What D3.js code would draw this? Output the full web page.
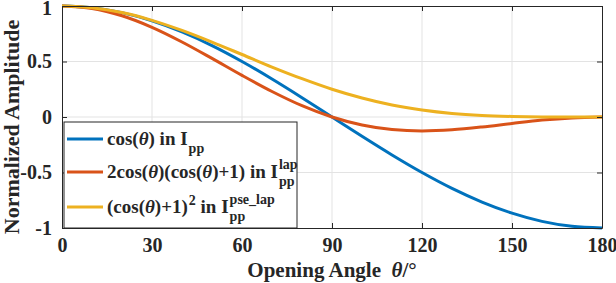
<!DOCTYPE html>
<html>
<head>
<meta charset="utf-8">
<script src="https://cdn.jsdelivr.net/npm/d3@7"></script>
<style>
  body { margin: 0; background: #fff; }
  svg { display: block; }
</style>
</head>
<body>
<div id="chart"></div>
<script>
// Values, every 10 degrees
var angles = [0, 10, 20, 30, 40, 50, 60, 70, 80, 90, 100, 110, 120, 130, 140, 150, 160, 170, 180];
var cosValues = [1, 0.985, 0.94, 0.866, 0.766, 0.643, 0.5, 0.342, 0.174, 0, -0.174, -0.342, -0.5, -0.643, -0.766, -0.866, -0.94, -0.985, -1];
var lapValues = [1, 0.978, 0.912, 0.808, 0.676, 0.528, 0.375, 0.23, 0.102, 0, -0.072, -0.113, -0.125, -0.115, -0.09, -0.058, -0.028, -0.008, 0];
var pseLapValues = [1, 0.985, 0.941, 0.871, 0.78, 0.675, 0.563, 0.45, 0.345, 0.25, 0.171, 0.108, 0.063, 0.032, 0.014, 0.005, 0.001, 0, 0];
var xTicks = [0, 30, 60, 90, 120, 150, 180];
var yTicks = [-1, -0.5, 0, 0.5, 1];
var yTickLabels = ["-1", "-0.5", "0", "0.5", "1"];

var width = 616, height = 283;
var margin = { top: 6, right: 14, bottom: 55, left: 62 };
var font = "'Liberation Serif', 'Times New Roman', serif";
var colours = ["#0072BD", "#D95319", "#EDB120"];
var axisColour = "#262626";

var x = d3.scaleLinear([0, 180], [margin.left, width - margin.right]);
var y = d3.scaleLinear([-1, 1], [height - margin.bottom, margin.top]);

const svg = d3.select("#chart").append("svg")
    .attr("width", width)
    .attr("height", height)
    .attr("font-family", font)
    .attr("font-weight", "bold");

// Grid lines
var grid = svg.append("g").attr("stroke", "#e3e3e3").attr("stroke-width", 1);
grid.selectAll("line.gx").data(xTicks.slice(1, -1)).join("line")
    .attr("x1", d => x(d)).attr("x2", d => x(d))
    .attr("y1", y(-1)).attr("y2", y(1));
grid.selectAll("line.gy").data(yTicks.slice(1, -1)).join("line")
    .attr("x1", x(0)).attr("x2", x(180))
    .attr("y1", d => y(d)).attr("y2", d => y(d));

// Curves
var series = [cosValues, lapValues, pseLapValues];
var line = d3.line()
    .x((d, i) => x(angles[i]))
    .y(d => y(d))
    .curve(d3.curveMonotoneX);

svg.append("g").selectAll("path")
    .data(series)
    .join("path")
    .attr("fill", "none")
    .attr("stroke", (d, i) => colours[i])
    .attr("stroke-width", 3)
    .attr("d", d => line(d));

// Axes with inward ticks on all four sides
var tickLen = 5;
svg.append("g")
    .attr("transform", `translate(0,${y(-1)})`)
    .call(d3.axisBottom(x).tickValues(xTicks).tickSizeInner(-tickLen).tickSizeOuter(0).tickPadding(10))
    .call(g => g.selectAll("text").attr("font-size", 20).attr("font-family", font).attr("font-weight", "bold").attr("fill", axisColour));
svg.append("g")
    .attr("transform", `translate(0,${y(1)})`)
    .call(d3.axisTop(x).tickValues(xTicks).tickSizeInner(-tickLen).tickSizeOuter(0).tickFormat(""));
svg.append("g")
    .attr("transform", `translate(${x(0)},0)`)
    .call(d3.axisLeft(y).tickValues(yTicks).tickSizeInner(-tickLen).tickSizeOuter(0).tickPadding(10)
        .tickFormat((d, i) => yTickLabels[i]))
    .call(g => g.selectAll("text").attr("font-size", 20).attr("font-family", font).attr("font-weight", "bold").attr("fill", axisColour));
svg.append("g")
    .attr("transform", `translate(${x(180)},0)`)
    .call(d3.axisRight(y).tickValues(yTicks).tickSizeInner(-tickLen).tickSizeOuter(0).tickFormat(""));
svg.selectAll(".domain, .tick line").attr("stroke", axisColour);
// keep the top label inside the picture
svg.selectAll(".tick text").filter(d => d === 1).attr("dy", "0.42em");

// Axis titles
svg.append("text")
    .attr("x", (x(0) + x(180)) / 2)
    .attr("y", 277)
    .attr("text-anchor", "middle")
    .attr("font-size", 21)
    .attr("fill", axisColour)
    .attr("xml:space", "preserve")
    .call(t => t.append("tspan").text("Opening Angle  "))
    .call(t => t.append("tspan").attr("font-style", "italic").text("θ"))
    .call(t => t.append("tspan").text("/°"));

svg.append("text")
    .attr("transform", `translate(19,127) rotate(-90)`)
    .attr("text-anchor", "middle")
    .attr("font-size", 22)
    .attr("fill", axisColour)
    .text("Normalized Amplitude");

// Legend
var legendBox = { x: 64, y: 122, w: 233, h: y(-1) - 122 };
var legend = svg.append("g");
legend.append("rect")
    .attr("x", legendBox.x).attr("y", legendBox.y)
    .attr("width", legendBox.w).attr("height", legendBox.h)
    .attr("fill", "white").attr("stroke", axisColour).attr("stroke-width", 1);

var rowY = [139, 172, 207];
// each entry: main text pieces [text, italic], optional power after main, then I with sup/sub
var entries = [
    { parts: [["cos(", false], ["θ", true], [") in I", false]], sup: "", sub: "pp" },
    { parts: [["2cos(", false], ["θ", true], [")(cos(", false], ["θ", true], [")+1) in I", false]], sup: "lap", sub: "pp" },
    { parts: [["(cos(", false], ["θ", true], [")+1)", false]], power: "2", after: " in I", sup: "pse_lap", sub: "pp" }
];

entries.forEach(function (e, i) {
    var ly = rowY[i];
    legend.append("line")
        .attr("x1", 67).attr("x2", 103)
        .attr("y1", ly).attr("y2", ly)
        .attr("stroke", colours[i]).attr("stroke-width", 3);

    var base = ly + 6;
    var t = legend.append("text")
        .attr("x", 107).attr("y", base)
        .attr("font-size", 19)
        .attr("fill", axisColour);
    e.parts.forEach(p => t.append("tspan").attr("font-style", p[1] ? "italic" : null).text(p[0]));
    var endX = 107 + t.node().getComputedTextLength();

    if (e.power) {
        var pw = legend.append("text")
            .attr("x", endX + 1).attr("y", base - 8)
            .attr("font-size", 14).attr("fill", axisColour)
            .text(e.power);
        endX += pw.node().getComputedTextLength() + 1;
        var af = legend.append("text")
            .attr("x", endX).attr("y", base)
            .attr("font-size", 19).attr("fill", axisColour)
            .attr("xml:space", "preserve")
            .text(e.after);
        endX += af.node().getComputedTextLength();
    }

    if (e.sup)
        legend.append("text")
            .attr("x", endX + 1).attr("y", base - 9)
            .attr("font-size", 14).attr("fill", axisColour)
            .text(e.sup);
    legend.append("text")
        .attr("x", endX + 1).attr("y", base + 8)
        .attr("font-size", 14).attr("fill", axisColour)
        .text(e.sub);
});
</script>
</body>
</html>
